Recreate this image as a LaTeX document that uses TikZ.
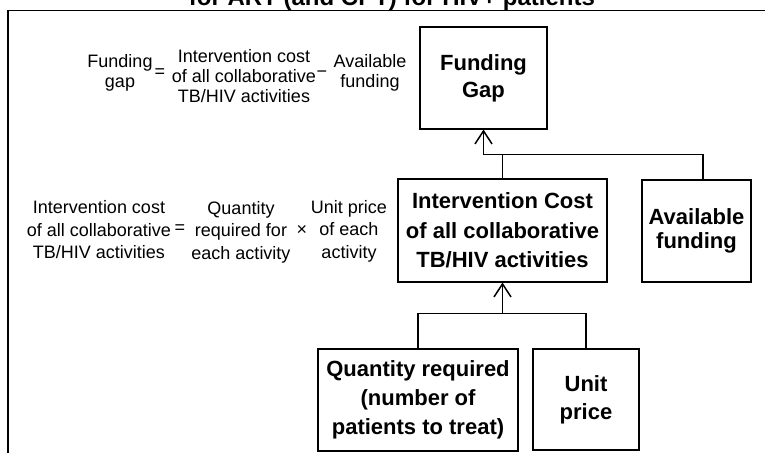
\documentclass[tikz,border=0pt]{standalone}
\usepackage{fontspec}
\setmainfont{Liberation Sans}
\usetikzlibrary{arrows.meta}

\begin{document}
\begin{tikzpicture}[
    x=1pt, y=-1pt,
    box/.style={rectangle, draw, line width=1.1pt, inner sep=0pt, align=center,
                font=\fontsize{22}{28}\selectfont\bfseries},
    eqn/.style={inner sep=0pt, align=center, font=\fontsize{18}{20}\selectfont},
    eqnb/.style={inner sep=0pt, align=center, font=\fontsize{18}{22.5}\selectfont},
    link/.style={line width=1.1pt},
    arrow/.style={-{Straight Barb[length=13pt,width=17pt,line width=1.5pt]}, line width=1.7pt}
]
\useasboundingbox (0,0) rectangle (765,453);
% frame and cut title
\node[anchor=base, inner sep=0pt, font=\fontsize{24}{28}\selectfont\bfseries] (title) at (392,5) {for ART (and CPT) for HIV+ patients};
\draw[line width=1.2pt] (8,453) -- (8,10.5) -- (765,10.5);
% boxes
\node[box, minimum width=127pt, minimum height=102pt, font=\fontsize{22}{27}\selectfont\bfseries] (fgap) at (483.5,78) {Funding\\Gap};
\node[box, minimum width=209pt, minimum height=103pt, font=\fontsize{22}{29.5}\selectfont\bfseries] (icost) at (502.5,230.5) {Intervention Cost\\of all collaborative\\TB/HIV activities};
\node[box, minimum width=109pt, minimum height=102pt, font=\fontsize{22}{24.5}\selectfont\bfseries] (avail) at (696.5,231) {Available\\funding};
\node[box, minimum width=200pt, minimum height=102pt, font=\fontsize{22}{29}\selectfont\bfseries] (qty) at (418,400) {Quantity required\\(number of\\patients to treat)};
\node[box, minimum width=106pt, minimum height=101pt] (uprice) at (586,399.5) {Unit\\price};
% formulas
\node[eqn] (gaplbl) at (120,73) {Funding\\gap};
\node[eqn] (eq1) at (160,73) {=};
\node[eqn] (costlbl) at (244,76) {Intervention cost\\of all collaborative\\TB/HIV activities};
\node[eqn] (minus) at (322,74) {−};
\node[eqn] (availlbl) at (370,73) {Available\\funding};
\node[eqnb] (costlbl2) at (99,230) {Intervention cost\\of all collaborative\\TB/HIV activities};
\node[eqnb] (eq2) at (180,229) {=};
\node[eqnb] (qtylbl) at (241,232) {Quantity\\required for\\each activity};
\node[eqnb] (times) at (302,230) {×};
\node[eqnb] (pricelbl) at (349,231) {Unit price\\of each\\activity};
% connectors
\path (fgap.south) ++(0,25) coordinate (j1);
\path (icost.south) ++(0,31) coordinate (j2);
\draw[link] (icost.north) |- (j1) -| ([xshift=6.5pt]avail.north);
\draw[arrow] (j1) -- (fgap.south);
\draw[link] (qty.north) |- (j2) -| (uprice.north);
\draw[arrow] (j2) -- (icost.south);
\end{tikzpicture}
\end{document}
